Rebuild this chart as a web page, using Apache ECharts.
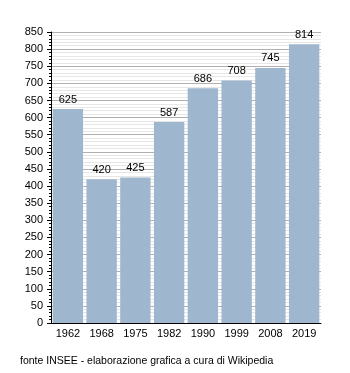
<!DOCTYPE html>
<html><head><meta charset="utf-8">
<script src="https://cdn.jsdelivr.net/npm/echarts@6/dist/echarts.min.js"></script>
<style>html,body{margin:0;padding:0;background:#fff}#c{width:350px;height:373px}</style>
</head><body><div id="c"></div>
<script>
const years = ['1962','1968','1975','1982','1990','1999','2008','2019'];
const population = [625, 420, 425, 587, 686, 708, 745, 814];
const footer = 'fonte INSEE - elaborazione grafica a cura di Wikipedia';
const chart = echarts.init(document.getElementById('c'), null, {renderer:'canvas'});
chart.setOption({
  animation:false,
  backgroundColor:'#fff',
  textStyle:{fontFamily:'Liberation Sans'},
  grid:{left:51, right:29, top:32, bottom:50},
  graphic:[{type:'text', left:20, top:356, style:{text:footer, fontSize:10.5, fontFamily:'Liberation Sans', fill:'#000'}}],
  xAxis:{type:'category', data:years,
    axisLine:{lineStyle:{color:'#000', width:1}},
    axisTick:{show:false},
    axisLabel:{color:'#000', fontSize:11, margin:5}},
  yAxis:{type:'value', min:0, max:850, interval:50,
    axisLine:{show:true, lineStyle:{color:'#000'}},
    axisTick:{show:true, inside:false, length:4, lineStyle:{color:'#000'}},
    minorTick:{show:true, splitNumber:5, length:2, lineStyle:{color:'#000'}},
    splitLine:{lineStyle:{color:'#b0b0b0'}},
    minorSplitLine:{show:true, lineStyle:{color:'#e6e6e6'}},
    axisLabel:{color:'#000', fontSize:11, margin:8}},
  series:[{type:'bar', data:population, barCategoryGap:'10%',
    itemStyle:{color:'#9fb6cf'},
    label:{show:true, position:'top', color:'#000', fontSize:11, distance:4}}]
});
</script></body></html>
